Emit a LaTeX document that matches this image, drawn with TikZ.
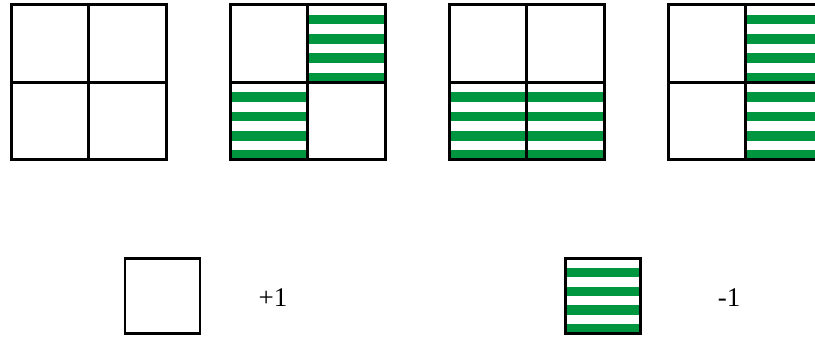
\documentclass[tikz,border=0pt]{standalone}
\usepackage{fontspec}
\setmainfont{Liberation Serif}
\usepackage{tikz}
\usetikzlibrary{positioning,calc}
\usepackage{xcolor}
\definecolor{stripegreen}{RGB}{0,150,64}

\begin{document}
\begin{tikzpicture}[x=1pt,y=1pt,font=\fontsize{27}{32}\selectfont,
  plaincell/.style={draw,line width=3pt,minimum size=77.5pt,inner sep=0pt,outer sep=0pt},
  greencell/.style={plaincell,path picture={
    \foreach \k in {0,...,3}
      \fill[stripegreen] ($(path picture bounding box.south west)!{\k/4}!(path picture bounding box.north west)$)
        rectangle ($(path picture bounding box.south east)!{(\k+0.5)/4}!(path picture bounding box.north east)$);}}]
  \useasboundingbox (0,0) rectangle (815,337);
  \clip (0,0) rectangle (815,337);
  % the four 2x2 grids
  \foreach \g/\tl/\tr/\bl/\br in {0/plaincell/plaincell/plaincell/plaincell,
      1/plaincell/greencell/greencell/plaincell,
      2/plaincell/plaincell/greencell/greencell,
      3/plaincell/greencell/plaincell/greencell}{
    \node[\tl] (g\g tl) at (49.75+219*\g,293.25) {};
    \node[\tr] (g\g tr) at (127.25+219*\g,293.25) {};
    \node[\bl] (g\g bl) at (49.75+219*\g,215.75) {};
    \node[\br] (g\g br) at (127.25+219*\g,215.75) {};
  }
  % legend
  \node[plaincell,line width=2.5pt,minimum size=75pt] (plussq) at (162.5,41) {};
  \node (plustext) at (273,39) {+1};
  \node[greencell,line width=2.5pt,minimum size=75pt] (minussq) at (603,41) {};
  \node (minustext) at (729,39) {-1};
\end{tikzpicture}
\end{document}
